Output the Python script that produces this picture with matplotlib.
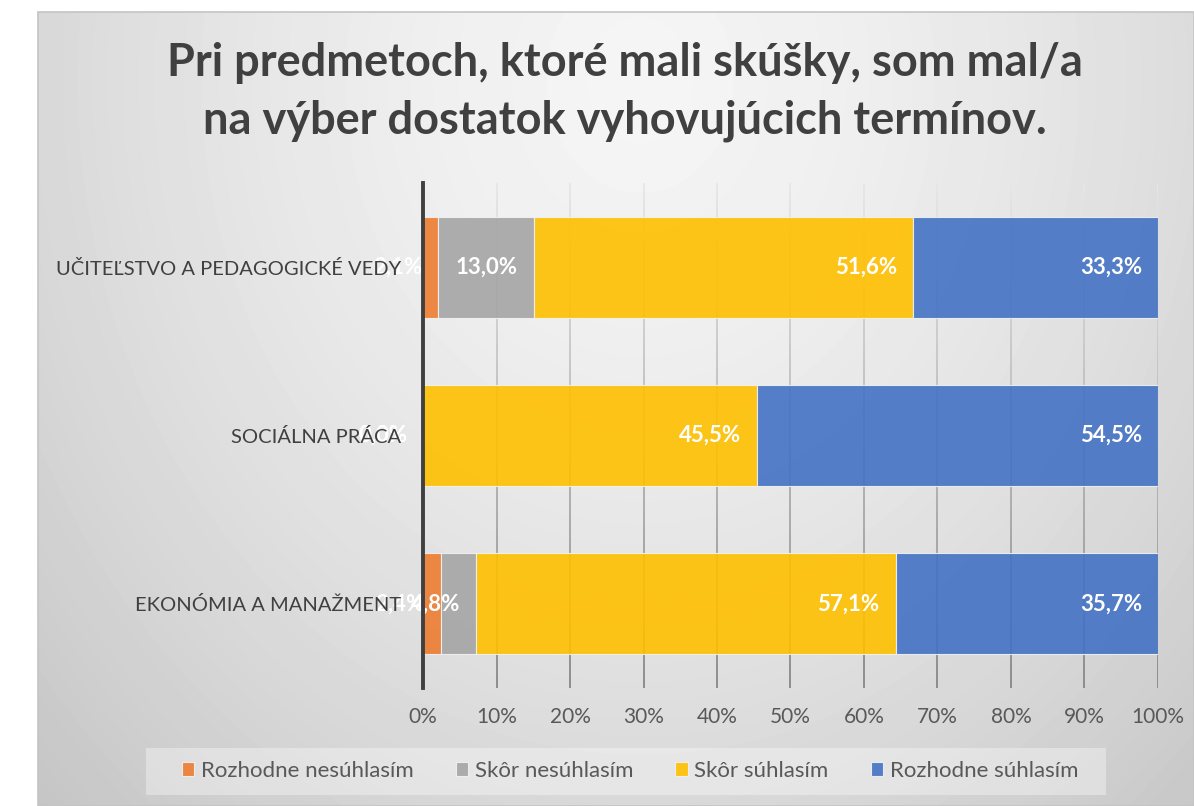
import numpy as np
import matplotlib
matplotlib.use('Agg')
from matplotlib import pyplot as plt
from matplotlib.collections import LineCollection
from matplotlib.patches import Rectangle

plt.rcParams['font.family'] = ['Lato', 'DejaVu Sans']

title = 'Pri predmetoch, ktoré mali skúšky, som mal/a\nna výber dostatok vyhovujúcich termínov.'
programs = ['UČITEĽSTVO A PEDAGOGICKÉ VEDY', 'SOCIÁLNA PRÁCA', 'EKONÓMIA A MANAŽMENT']
answers = ['Rozhodne nesúhlasím', 'Skôr nesúhlasím', 'Skôr súhlasím', 'Rozhodne súhlasím']
rozhodne_nesuhlasim = [2.1, 0.0, 2.4]
skor_nesuhlasim = [13.0, 0.0, 4.8]
skor_suhlasim = [51.6, 45.5, 57.1]
rozhodne_suhlasim = [33.3, 54.5, 35.7]
xticks = [0, 10, 20, 30, 40, 50, 60, 70, 80, 90, 100]
colors = ['#ED7D31', '#A5A5A5', '#FFC000', '#4472C4']

W, H = 1194, 806
fig = plt.figure(figsize=(W / 100, H / 100), dpi=100)
fig.patch.set_facecolor('white')

# shaded panel behind the chart
bg = fig.add_axes([38 / W, 0, (W - 38) / W, (H - 12) / H], zorder=-10)
yy, xx = np.mgrid[12:H, 38:W]
d = np.sqrt(((xx - 640) / 750.0) ** 2 + ((yy - 80) / 900.0) ** 2)
shade = 0.96 - 0.155 * np.clip(d, 0, 1.3) ** 1.5
bg.imshow(shade, cmap='gray', vmin=0, vmax=1, aspect='auto', interpolation='bilinear')
bg.set_axis_off()
fig.patches.append(Rectangle((38 / W, 0), (W - 38) / W, (H - 12) / H, transform=fig.transFigure,
                             fill=False, edgecolor='#c4c4c4', linewidth=1.2, zorder=-5))

ax = fig.add_axes([423 / W, (H - 688) / H, 735 / W, 505 / H])
ax.set_facecolor('none')

series = [rozhodne_nesuhlasim, skor_nesuhlasim, skor_suhlasim, rozhodne_suhlasim]
ypos = np.arange(len(programs))

# vertical grid, fading from light at the top to darker at the bottom
ys = np.linspace(-0.5, 2.5, 61)
segs, cols = [], []
for x in xticks[1:]:
    for i in range(len(ys) - 1):
        segs.append([(x, ys[i]), (x, ys[i + 1])])
        g = 0.9 - 0.37 * (i / (len(ys) - 2))
        cols.append((g, g, g))
ax.add_collection(LineCollection(segs, colors=cols, linewidths=1.3, zorder=1))

left = np.zeros(len(programs))
bars = []
for vals, c, lab in zip(series, colors, answers):
    vals = np.array(vals)
    b = ax.barh(ypos, vals, left=left, height=0.6, color=c, alpha=0.9,
                edgecolor='#f2f2f2', linewidth=0.8, label=lab, zorder=2)
    bars.append(b)
    for y, l, v in zip(ypos, left, vals):
        ax.annotate(f'{v:.1f}%'.replace('.', ','), (l + v, y), xytext=(-11.5, 0),
                    textcoords='offset points', ha='right', va='center',
                    color='white', fontsize=16, fontweight='bold', zorder=3)
    left = left + vals

ax.set_xlim(0, 100)
ax.set_ylim(2.5, -0.5)
ax.set_xticks(xticks)
ax.set_xticklabels([f'{t}%' for t in xticks])
ax.set_yticks(ypos)
ax.set_yticklabels(programs)
ax.tick_params(axis='x', length=0, pad=14, labelsize=15, labelcolor='#595959')
ax.tick_params(axis='y', length=0, pad=16, labelsize=14.5, labelcolor='#404040')
ax.yaxis.set_zorder(5)
for s in ['top', 'right', 'bottom']:
    ax.spines[s].set_visible(False)
ax.spines['left'].set_color('#404040')
ax.spines['left'].set_linewidth(2.8)
ax.spines['left'].set_zorder(4)

fig.text(625 / W, 1 - 92 / H, title, ha='center', va='center', fontsize=32.5,
         fontweight='bold', color='#404040', linespacing=1.45)

# legend strip
fig.patches.append(Rectangle((146 / W, 1 - 795 / H), 960 / W, 47 / H, transform=fig.transFigure,
                             facecolor='white', alpha=0.35, edgecolor='none', zorder=1))
fig.legend(handles=bars, labels=answers, ncol=4, loc='center',
           bbox_to_anchor=(630 / W, 1 - 771 / H), frameon=False, fontsize=16,
           handlelength=0.55, handleheight=0.55, handletextpad=0.3, columnspacing=1.9,
           labelcolor='#595959')

plt.savefig('out.png', dpi=100)
